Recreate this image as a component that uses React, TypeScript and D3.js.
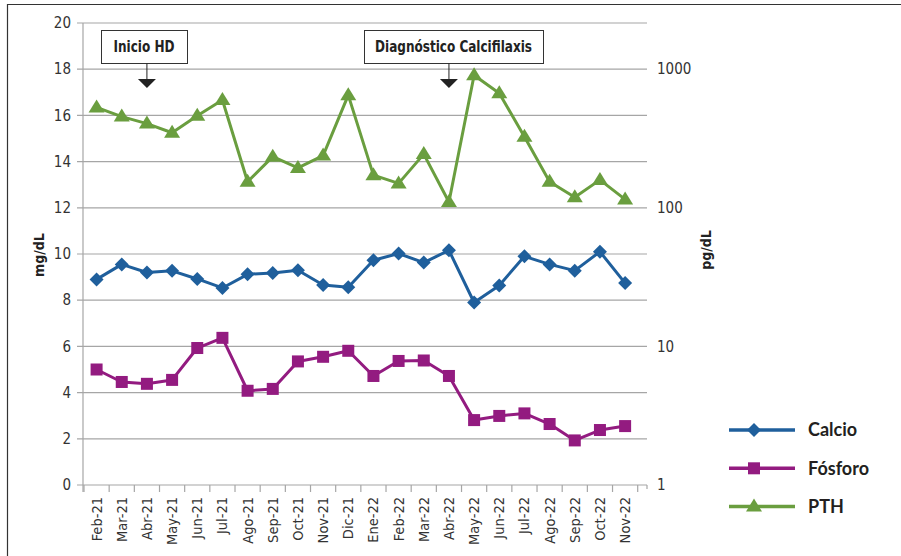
import React from 'react';
import * as d3 from 'd3';

// months shown on the x axis
const months = [
  'Feb-21', 'Mar-21', 'Abr-21', 'May-21', 'Jun-21', 'Jul-21', 'Ago-21', 'Sep-21', 'Oct-21', 'Nov-21', 'Dic-21',
  'Ene-22', 'Feb-22', 'Mar-22', 'Abr-22', 'May-22', 'Jun-22', 'Jul-22', 'Ago-22', 'Sep-22', 'Oct-22', 'Nov-22',
];

// mg/dL (left axis)
const calcio = [8.9, 9.55, 9.2, 9.27, 8.92, 8.53, 9.12, 9.18, 9.3, 8.66, 8.56, 9.73, 10.02, 9.63, 10.16, 7.9, 8.64, 9.9, 9.55, 9.28, 10.1, 8.74];
const fosforo = [5.0, 4.46, 4.38, 4.55, 5.93, 6.37, 4.08, 4.16, 5.35, 5.55, 5.81, 4.72, 5.37, 5.39, 4.72, 2.81, 2.99, 3.1, 2.64, 1.93, 2.38, 2.55];

// pg/dL (right axis, log)
const pth = [530, 455, 405, 348, 462, 600, 154, 234, 194, 238, 650, 172, 150, 244, 110, 905, 670, 326, 154, 119, 159, 115];

const leftTicks = [0, 2, 4, 6, 8, 10, 12, 14, 16, 18, 20];
const rightTicks = [1, 10, 100, 1000];

const notes = [
  { label: 'Inicio HD', month: 'Abr-21', x0: 101, x1: 187, tw: 61 },
  { label: 'Diagnóstico Calcifilaxis', month: 'Abr-22', x0: 364, x1: 543, tw: 157 },
];

const BLUE = '#1f5f9c';
const PURPLE = '#931b80';
const GREEN = '#6a9e3f';
const GRID = '#a6a6a6';
const NARROW = "'Liberation Sans Narrow', 'DejaVu Sans Condensed', 'Roboto', sans-serif";
const LATO = "Lato, 'Open Sans', sans-serif";

const W = 901;
const H = 556;
const plotLeft = 83;
const plotRight = 647;
const plotTop = 23;
const plotBottom = 485;

const Marker = ({ kind, x, y, color }: { kind: string; x: number; y: number; color: string }) => {
  if (kind === 'diamond') {
    return <path d={`M${x},${y - 7}L${x + 7},${y}L${x},${y + 7}L${x - 7},${y}Z`} fill={color} />;
  }
  if (kind === 'square') {
    return <rect x={x - 6} y={y - 6} width={12} height={12} fill={color} />;
  }
  return <path d={`M${x},${y - 8}L${x + 8},${y + 5}L${x - 8},${y + 5}Z`} fill={color} />;
};

const App = () => {
  const x = d3.scaleBand<string>().domain(months).range([84, 637.7]);
  const cx = (m: string) => (x(m) as number) + x.bandwidth() / 2;
  const yLeft = d3.scaleLinear().domain([0, 20]).range([plotBottom, plotTop]);
  const yRight = d3.scaleLog().domain([1, Math.pow(10, 20 / 6)]).range([plotBottom, plotTop]);

  const line = d3.line<[number, number]>().x((d) => d[0]).y((d) => d[1]);

  const series = [
    { name: 'Calcio', color: BLUE, kind: 'diamond', pts: calcio.map((v, i) => [cx(months[i]), yLeft(v)] as [number, number]) },
    { name: 'Fósforo', color: PURPLE, kind: 'square', pts: fosforo.map((v, i) => [cx(months[i]), yLeft(v)] as [number, number]) },
    { name: 'PTH', color: GREEN, kind: 'triangle', pts: pth.map((v, i) => [cx(months[i]), yRight(v)] as [number, number]) },
  ];

  const boundaries = months.map((m) => x(m) as number).concat([637.7]);

  return (
    <svg width={W} height={H} style={{ display: 'block', position: 'absolute', left: 0, top: 0 }}>
      <rect width={W} height={H} fill="#fff" />
      {/* frame */}
      <line x1={7.5} x2={7.5} y1={4} y2={H} stroke="#333" strokeWidth={1.2} />
      <line x1={7} x2={W} y1={4.5} y2={4.5} stroke="#333" strokeWidth={1.2} />

      {/* grid */}
      {leftTicks.map((t) => (
        <g key={t}>
          <line x1={plotLeft - 6} x2={plotRight} y1={yLeft(t)} y2={yLeft(t)} stroke={GRID} strokeWidth={1.2} />
          <text x={71} y={yLeft(t)} dy="0.35em" textAnchor="end" fontFamily={NARROW} fontSize={15} fill="#333">{t}</text>
        </g>
      ))}
      <line x1={plotLeft} x2={plotLeft} y1={plotTop} y2={plotBottom + 7} stroke={GRID} strokeWidth={1.2} />
      {boundaries.map((b, i) => (
        <line key={i} x1={b} x2={b} y1={plotBottom} y2={plotBottom + 7} stroke={GRID} strokeWidth={1.2} />
      ))}
      <line x1={plotRight} x2={plotRight} y1={plotBottom} y2={plotBottom + 4} stroke={GRID} strokeWidth={1.2} />

      {rightTicks.map((t) => (
        <text key={t} x={657} y={yRight(t)} dy="0.35em" fontFamily={NARROW} fontSize={15} fill="#333">{t}</text>
      ))}

      {months.map((m) => (
        <text key={m} transform={`translate(${cx(m) + 5},497) rotate(-90)`} textAnchor="end" fontFamily={NARROW} fontSize={14.5} fill="#333">{m}</text>
      ))}

      <text transform="translate(44,255) rotate(-90)" textAnchor="middle" fontFamily={NARROW} fontWeight="bold" fontSize={14} fill="#222">mg/dL</text>
      <text transform="translate(711,250) rotate(-90)" textAnchor="middle" fontFamily={NARROW} fontWeight="bold" fontSize={14} fill="#222">pg/dL</text>

      {/* series */}
      {series.map((s) => (
        <g key={s.name}>
          <path d={line(s.pts) as string} fill="none" stroke={s.color} strokeWidth={3} strokeLinejoin="round" />
          {s.pts.map((p, i) => <Marker key={i} kind={s.kind} x={p[0]} y={p[1]} color={s.color} />)}
        </g>
      ))}

      {/* annotations */}
      {notes.map((n) => {
        const ax = cx(n.month);
        return (
          <g key={n.label}>
            <rect x={n.x0 + 0.5} y={30.5} width={n.x1 - n.x0} height={33} fill="#fff" stroke="#333" strokeWidth={1} />
            <text x={(n.x0 + n.x1) / 2} y={47} dy="0.35em" textAnchor="middle" textLength={n.tw} lengthAdjust="spacingAndGlyphs" fontFamily={NARROW} fontWeight="bold" fontSize={15} fill="#222">{n.label}</text>
            <line x1={ax} x2={ax} y1={63.5} y2={79} stroke="#222" strokeWidth={1} />
            <path d={`M${ax - 9},79L${ax + 9},79L${ax},88Z`} fill="#222" />
          </g>
        );
      })}

      {/* legend */}
      {series.map((s, i) => {
        const ly = 430 + i * 38.3;
        return (
          <g key={s.name}>
            <line x1={729} x2={795} y1={ly} y2={ly} stroke={s.color} strokeWidth={3.5} />
            <Marker kind={s.kind} x={754} y={ly} color={s.color} />
            <text x={808} y={ly} dy="0.36em" fontFamily={LATO} fontWeight="bold" fontSize={18} fill="#231f20">{s.name}</text>
          </g>
        );
      })}
    </svg>
  );
};

export default App;
